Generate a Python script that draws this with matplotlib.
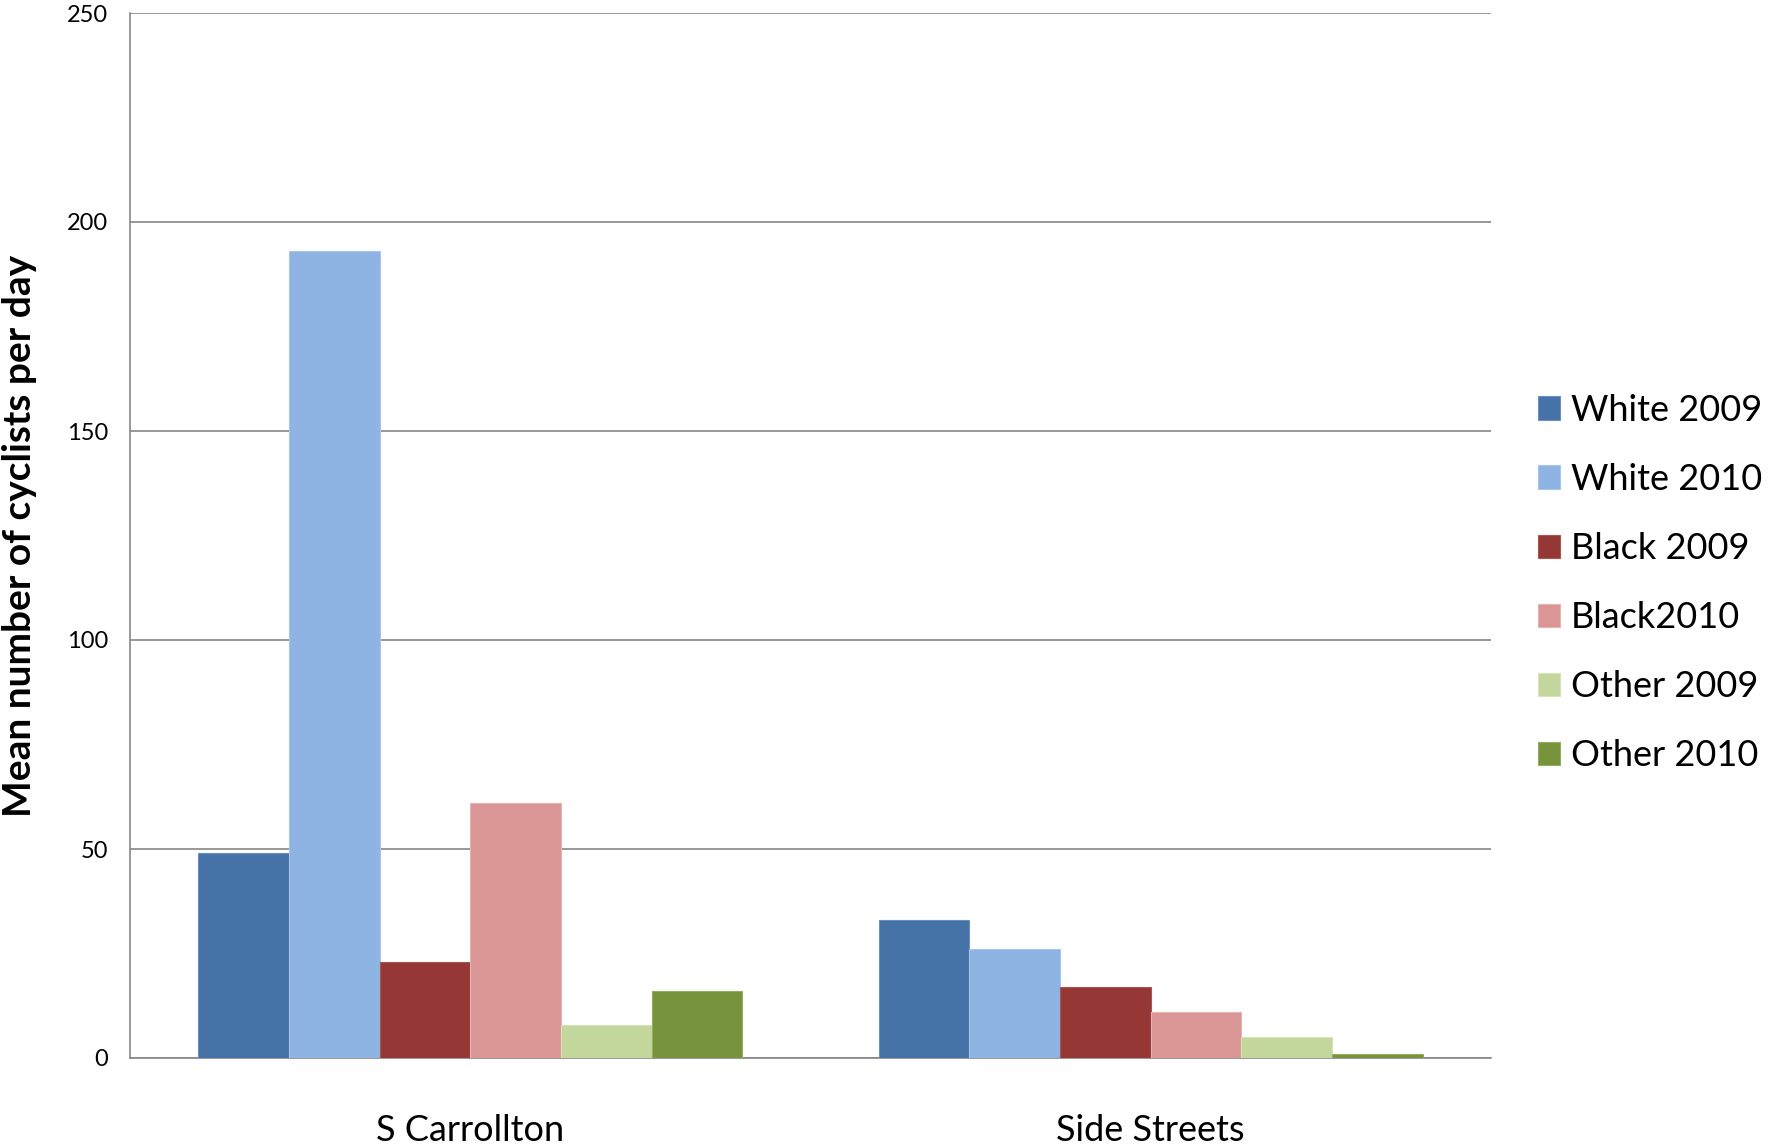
import numpy as np
import matplotlib
matplotlib.use("Agg")
import matplotlib.pyplot as plt

plt.rcParams['font.family'] = ['Lato', 'DejaVu Sans']

categories = ['S Carrollton', 'Side Streets']
series = ['White 2009', 'White 2010', 'Black 2009', 'Black2010', 'Other 2009', 'Other 2010']
values = [
    [49, 33],
    [193, 26],
    [23, 17],
    [61, 11],
    [8, 5],
    [16, 1],
]
colors = ['#4572A7', '#8EB4E3', '#953735', '#D99694', '#C3D69B', '#77933C']
edges = ['#6B8FC0', '#A9C6EA', '#A85654', '#E5B3B2', '#D6E3BD', '#93AE5E']

fig = plt.figure(figsize=(17.71, 11.46), dpi=100)
ax = fig.add_axes([130 / 1771, 1 - 1058 / 1146, (1491 - 130) / 1771, (1058 - 13) / 1146])

x = np.arange(len(categories))
w = 0.8 / 6
for i, (name, vals) in enumerate(zip(series, values)):
    ax.bar(x + (i - 2.5) * w, vals, w, color=colors[i], edgecolor=edges[i],
           linewidth=0.8, label=name, zorder=3)

ax.set_xlim(-0.5, 1.5)
ax.set_ylim(0, 250)
ax.set_yticks([0, 50, 100, 150, 200, 250])
ax.yaxis.grid(True, color='#868686', linewidth=1.2, zorder=0)
ax.set_xticks(x)
ax.set_xticklabels(categories, fontsize=26)
ax.tick_params(axis='x', length=0, pad=40)
ax.tick_params(axis='y', length=0, labelsize=17, pad=16)
for s in ['top', 'right']:
    ax.spines[s].set_visible(False)
for s in ['left', 'bottom']:
    ax.spines[s].set_color('#868686')
    ax.spines[s].set_linewidth(1.2)

fig.text(20 / 1771, 1 - 536 / 1146, 'Mean number of cyclists per day', fontsize=28,
         fontweight='bold', rotation=90, ha='center', va='center')

fig.legend(loc='center left', bbox_to_anchor=(1538 / 1771, 1 - 583 / 1146),
           frameon=False, fontsize=26, handlelength=0.62, handleheight=0.62,
           handletextpad=0.3, labelspacing=1.0, borderpad=0, borderaxespad=0)

fig.savefig('out.png', dpi=100)
